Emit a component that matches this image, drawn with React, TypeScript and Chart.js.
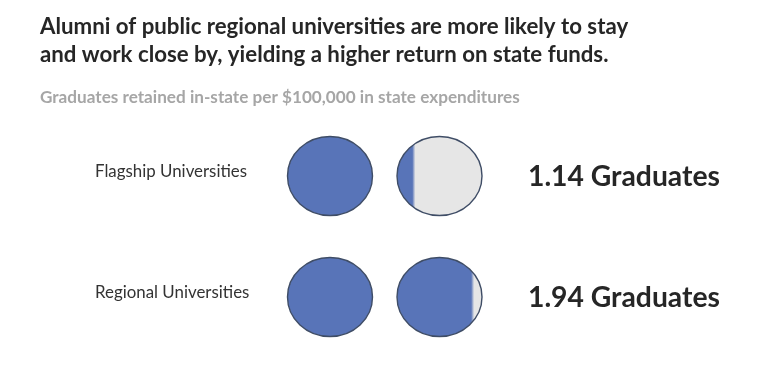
import React, { useEffect, useRef } from "react";
import { Chart, registerables } from "chart.js";
Chart.register(...registerables);

// ---- data ----
const categories = ["Flagship Universities", "Regional Universities"];
const graduates = [1.14, 1.94];
const valueSuffix = " Graduates";
const titleLines = [
  "Alumni of public regional universities are more likely to stay",
  "and work close by, yielding a higher return on state funds.",
];
const subtitleText = "Graduates retained in-state per $100,000 in state expenditures";

const FONT = "Lato, 'Open Sans', sans-serif";
const BLUE = "#5874b8";
const GRAY = "#e6e6e6";
const OUTLINE = "#3f4d66";

// fraction of width where the vertical edge leaves `frac` of circle area on its left
function edgeForArea(frac: number) {
  let lo = -1, hi = 1;
  for (let i = 0; i < 60; i++) {
    const t = (lo + hi) / 2;
    const a = (t * Math.sqrt(1 - t * t) + Math.asin(t) + Math.PI / 2) / Math.PI;
    if (a < frac) lo = t; else hi = t;
  }
  return ((lo + hi) / 2 + 1) / 2;
}

function fitFont(ctx: CanvasRenderingContext2D, text: string, weight: string, width: number) {
  ctx.font = `${weight} 100px ${FONT}`;
  const w = ctx.measureText(text).width;
  const size = (100 * width) / w;
  return `${weight} ${size.toFixed(2)}px ${FONT}`;
}

const points: { x: number; y: number; frac: number }[] = [];
graduates.forEach((v, row) => {
  const n = Math.ceil(v);
  for (let k = 0; k < n; k++) points.push({ x: k, y: row, frac: Math.min(1, v - k) });
});

const iconPlugin = {
  id: "icons",
  afterDatasetsDraw(chart: any) {
    const ctx: CanvasRenderingContext2D = chart.ctx;
    const meta = chart.getDatasetMeta(0);
    const xs = chart.scales.x;
    const ys = chart.scales.y;
    const rx = 42.5, ry = 39.5;
    meta.data.forEach((el: any, i: number) => {
      const p = points[i];
      const cx = el.x, cy = el.y;
      const left = cx - rx, w = 2 * rx;
      ctx.save();
      ctx.beginPath();
      ctx.ellipse(cx, cy, rx, ry, 0, 0, Math.PI * 2);
      if (p.frac >= 1) {
        ctx.fillStyle = BLUE;
      } else {
        const e = edgeForArea(p.frac);
        const g = ctx.createLinearGradient(left, 0, left + w, 0);
        const s1 = Math.max(0, e - 1.5 / w);
        const s2 = Math.min(1, e + 1.5 / w);
        g.addColorStop(0, BLUE);
        g.addColorStop(s1, BLUE);
        g.addColorStop(s2, GRAY);
        g.addColorStop(1, GRAY);
        ctx.fillStyle = g;
      }
      ctx.fill();
      ctx.lineWidth = 1.4;
      ctx.strokeStyle = OUTLINE;
      ctx.stroke();
      ctx.restore();
    });

    ctx.save();
    ctx.textAlign = "left";
    ctx.textBaseline = "alphabetic";
    // title
    ctx.fillStyle = "#262626";
    ctx.font = fitFont(ctx, titleLines[0], "bold", 588);
    ctx.fillText(titleLines[0], 40, 34);
    ctx.fillText(titleLines[1], 40, 62);
    // subtitle
    ctx.fillStyle = "#a6a6a6";
    ctx.font = fitFont(ctx, subtitleText, "bold", 480);
    ctx.fillText(subtitleText, 40, 103);
    // category labels
    ctx.fillStyle = "#333333";
    ctx.font = fitFont(ctx, categories[0], "normal", 152);
    categories.forEach((c, i) => {
      ctx.fillText(c, 95, ys.getPixelForValue(i) + 1);
    });
    // values
    ctx.fillStyle = "#262626";
    ctx.font = fitFont(ctx, graduates[0].toFixed(2) + valueSuffix, "bold", 192);
    graduates.forEach((v, i) => {
      ctx.fillText(v.toFixed(2) + valueSuffix, 528, ys.getPixelForValue(i) + 10);
    });
    ctx.restore();
  },
};

export default function App() {
  const ref = useRef<HTMLCanvasElement>(null);
  useEffect(() => {
    document.body.style.margin = "0";
    const colX0 = 330, colStep = 109.5, rowY0 = 176, rowStep = 121;
    const chart = new Chart(ref.current!, {
      type: "scatter",
      data: {
        datasets: [
          {
            data: points.map((p) => ({ x: p.x, y: p.y })),
            pointRadius: 0,
            pointHoverRadius: 0,
          },
        ],
      },
      options: {
        responsive: false,
        animation: false,
        events: [],
        layout: { padding: 0 },
        plugins: { legend: { display: false }, tooltip: { enabled: false } },
        scales: {
          x: { type: "linear", display: false, min: -colX0 / colStep, max: (780 - colX0) / colStep },
          y: { type: "linear", display: false, reverse: true, min: -rowY0 / rowStep, max: (375 - rowY0) / rowStep },
        },
      },
      plugins: [iconPlugin],
    });
    return () => chart.destroy();
  }, []);
  return <canvas ref={ref} width={780} height={375} style={{ display: "block", background: "#fff" }} />;
}
